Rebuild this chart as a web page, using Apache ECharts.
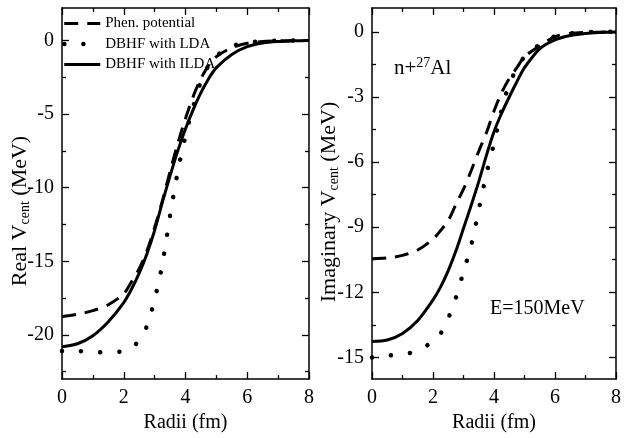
<!DOCTYPE html>
<html>
<head>
<meta charset="utf-8">
<script src="https://cdn.jsdelivr.net/npm/echarts@6/dist/echarts.min.js"></script>
<style>
html,body{margin:0;padding:0;background:#fff;}
#chart{width:624px;height:438px;}
</style>
</head>
<body>
<div id="chart"></div>
<script>
// ---- data ----
const radii = [0, 0.5, 1, 1.5, 2, 2.25, 2.5, 2.75, 3, 3.25, 3.5, 3.75, 4, 4.25, 4.5, 4.75, 5, 5.5, 6, 6.5, 7, 7.5, 8];
const seriesNames = ['Phen. potential', 'DBHF with LDA', 'DBHF with ILDA'];

// Real part
const realPhen = [-18.75, -18.6, -18.35, -17.95, -17.2, -16.4, -15.5, -14.3, -12.7, -10.9, -8.9, -7.0, -5.3, -3.8, -2.6, -1.7, -1.1, -0.5, -0.2, -0.08, -0.03, -0.01, 0];
const realLDA  = [-21.1, -21.1, -21.15, -21.2, -21.1, -20.9, -20.35, -19.4, -17.6, -15.2, -11.9, -8.9, -6.5, -4.5, -2.8, -1.7, -1.05, -0.4, -0.15, -0.05, -0.02, 0, 0];
const realILDA = [-20.8, -20.6, -20.05, -19.1, -17.8, -16.9, -15.8, -14.5, -12.9, -11.0, -9.2, -7.5, -6.0, -4.7, -3.55, -2.6, -1.85, -0.95, -0.42, -0.17, -0.07, -0.03, -0.01];

// Imaginary part
const imagPhen = [-10.45, -10.42, -10.3, -10.05, -9.55, -9.15, -8.7, -7.95, -7.25, -6.4, -5.5, -4.65, -3.65, -2.8, -2.15, -1.65, -1.15, -0.65, -0.22, -0.07, -0.02, -0.01, 0];
const imagLDA  = [-15.0, -14.92, -14.85, -14.7, -14.25, -13.9, -13.2, -12.25, -11.05, -9.85, -8.2, -6.55, -5.15, -3.6, -2.4, -1.7, -1.15, -0.58, -0.2, -0.07, -0.02, 0, 0];
const imagILDA = [-14.27, -14.2, -13.9, -13.3, -12.35, -11.75, -11.0, -10.1, -9.05, -8.0, -6.9, -5.7, -4.6, -3.75, -3.0, -2.3, -1.65, -0.78, -0.37, -0.17, -0.07, -0.03, -0.01];

// Tick labels
const xTicks = [0, 2, 4, 6, 8];
const realMajor = [-20, -15, -10, -5, 0];
const realMinor = [-22.5, -17.5, -12.5, -7.5, -2.5];
const imagMajor = [-15, -12, -9, -6, -3, 0];
const imagMinor = [-13.5, -10.5, -7.5, -4.5, -1.5];

// ---- chart ----
const FF = "'Liberation Serif','Times New Roman',serif";
const BLACK = '#000';
function pairs(xs, ys){ return xs.map((x,i)=>[x, ys[i]]); }

function xAxisPair(gi){
  const base = {
    type:'value', gridIndex:gi, min:xTicks[0], max:xTicks[xTicks.length-1], interval:2,
    axisLine:{show:true, onZero:false, lineStyle:{color:BLACK, width:1.5}},
    axisTick:{show:true, inside:true, length:7, lineStyle:{color:BLACK, width:1.3}},
    minorTick:{show:true, splitNumber:2, length:4, lineStyle:{color:BLACK, width:1.3}},
    splitLine:{show:false}, minorSplitLine:{show:false}
  };
  return [
    Object.assign({}, base, {position:'bottom',
      axisLabel:{color:BLACK, fontSize:20, fontFamily:FF, margin:9},
      name:'Radii (fm)', nameLocation:'middle', nameGap:33,
      nameTextStyle:{color:BLACK, fontSize:20, fontFamily:FF}}),
    Object.assign({}, base, {position:'top', axisLabel:{show:false}})
  ];
}
function yAxisSet(gi, min, max, major, minor){
  const common = {type:'value', gridIndex:gi, min:min, max:max, splitLine:{show:false}};
  const mk = (pos, vals, len, showLine, showLabel)=>Object.assign({}, common, {
    position:pos,
    axisLine:{show:showLine, onZero:false, lineStyle:{color:BLACK, width:1.5}},
    axisTick:{show:true, inside:true, length:len, customValues:vals, lineStyle:{color:BLACK, width:1.3}},
    axisLabel: showLabel ? {show:true, customValues:vals, color:BLACK, fontSize:20, fontFamily:FF, margin:8} : {show:false}
  });
  return [
    mk('left', major, 7, true, true),
    mk('left', minor, 4, false, false),
    mk('right', major, 7, true, false),
    mk('right', minor, 4, false, false)
  ];
}

const styles = [
  {type:[14,9], width:3, cap:'butt'},
  {type:[0.1,19], width:4.5, cap:'round'},
  {type:'solid', width:3, cap:'butt'}
];
function mkSeries(name, data, xi, yi, st){
  return {
    type:'line', name:name, data:data, xAxisIndex:xi, yAxisIndex:yi,
    showSymbol:false, symbol:'none', smooth:0.3,
    lineStyle:Object.assign({color:BLACK}, st), itemStyle:{color:BLACK},
    animation:false, z:3
  };
}

const option = {
  animation:false,
  backgroundColor:'#fff',
  grid:[
    {left:62, top:8, width:247, height:374},
    {left:372, top:8, width:247, height:374}
  ],
  xAxis: xAxisPair(0).concat(xAxisPair(1)),
  yAxis: yAxisSet(0, -23, 2.2, realMajor, realMinor).concat(yAxisSet(1, -16, 1.1, imagMajor, imagMinor)),
  legend:{
    left:62, top:16, orient:'vertical', padding:0, itemGap:5.5, itemWidth:36, itemHeight:14,
    textStyle:{color:BLACK, fontSize:15, fontFamily:FF},
    itemStyle:{opacity:0},
    lineStyle:{width:3},
    data: seriesNames.map((n,i)=>({name:n, itemStyle:{opacity:0}, lineStyle:Object.assign({color:BLACK}, styles[i])}))
  },
  series:[
    mkSeries(seriesNames[0], pairs(radii, realPhen), 0, 0, styles[0]),
    mkSeries(seriesNames[1], pairs(radii, realLDA), 0, 0, styles[1]),
    mkSeries(seriesNames[2], pairs(radii, realILDA), 0, 0, styles[2]),
    mkSeries(seriesNames[0], pairs(radii, imagPhen), 2, 4, styles[0]),
    mkSeries(seriesNames[1], pairs(radii, imagLDA), 2, 4, styles[1]),
    mkSeries(seriesNames[2], pairs(radii, imagILDA), 2, 4, styles[2])
  ],
  graphic:[
    {type:'text', x:20, y:211, rotation:Math.PI/2, style:{
      text:'{a|Real V}{s|cent}{a| (MeV)}', align:'center', verticalAlign:'middle',
      rich:{a:{fontSize:22, lineHeight:24, fontFamily:FF, fill:BLACK},
            s:{fontSize:14, lineHeight:10, verticalAlign:'bottom', fontFamily:FF, fill:BLACK}}}},
    {type:'text', x:329, y:202, rotation:Math.PI/2, style:{
      text:'{a|Imaginary V}{s|cent}{a| (MeV)}', align:'center', verticalAlign:'middle',
      rich:{a:{fontSize:22, lineHeight:24, fontFamily:FF, fill:BLACK},
            s:{fontSize:14, lineHeight:10, verticalAlign:'bottom', fontFamily:FF, fill:BLACK}}}},
    {type:'text', x:394, y:68, style:{
      text:'{a|n+}{p|27}{a|Al}', align:'left', verticalAlign:'middle',
      rich:{a:{fontSize:21, lineHeight:24, fontFamily:FF, fill:BLACK},
            p:{fontSize:14, lineHeight:8, verticalAlign:'top', fontFamily:FF, fill:BLACK}}}},
    {type:'text', x:490, y:309, style:{
      text:'E=150MeV', align:'left', verticalAlign:'middle',
      fontSize:20, fontFamily:FF, fill:BLACK}}
  ]
};
const chart = echarts.init(document.getElementById('chart'), null, {renderer:'canvas'});
chart.setOption(option);
</script>
</body>
</html>
